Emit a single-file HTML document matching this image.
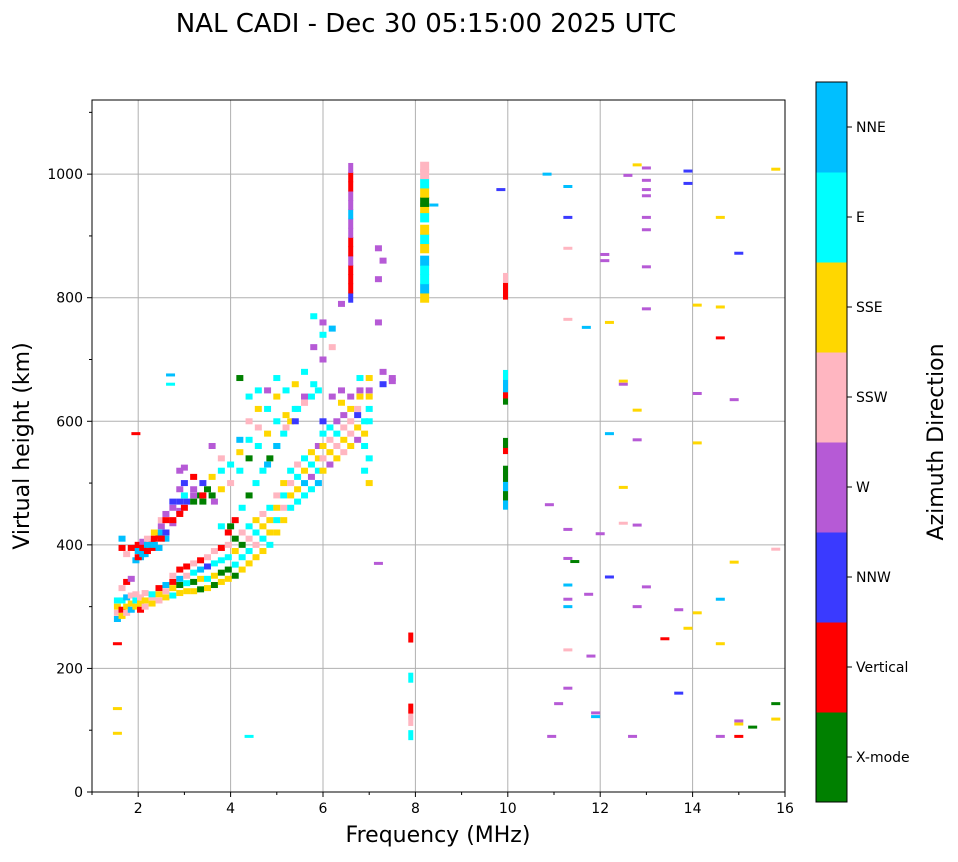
<!DOCTYPE html>
<html><head><meta charset="utf-8"><style>
body{margin:0;background:#fff;font-family:"Liberation Sans","DejaVu Sans",sans-serif}
svg text{font-family:"DejaVu Sans","Liberation Sans",sans-serif}
</style></head><body>
<svg id="chart" width="958" height="857" xmlns="http://www.w3.org/2000/svg">
<text x="426" y="32" font-size="26" text-anchor="middle">NAL CADI - Dec 30 05:15:00 2025 UTC</text>
<g id="grid"></g>
<g id="marks"></g>
<rect x="92" y="100" width="693" height="692" fill="none" stroke="#000" stroke-width="1"/>
<g id="axes"></g>
<text x="438" y="842" font-size="22" text-anchor="middle">Frequency (MHz)</text>
<text x="0" y="0" font-size="22" text-anchor="middle" transform="translate(29,446) rotate(-90)">Virtual height (km)</text>
<g id="cbar"></g>
<text x="0" y="0" font-size="22" text-anchor="middle" transform="translate(943,442) rotate(-90)">Azimuth Direction</text>
</svg>
<script>
const colors=["#008000","#ff0000","#3a3aff","#b65ad6","#ffb6c1","#ffd700","#00ffff","#00bfff"];
const directions=["X-mode","Vertical","NNW","W","SSW","SSE","E","NNE"];
const xTicks=[2,4,6,8,10,12,14,16];
const yTicks=[0,200,400,600,800,1000];
const lowerTrace=[
[1.55,[280,290,300,310],[7,4,5,6]],[1.65,[285,295,310,330,395,410],[5,1,6,4,1,7]],[1.75,[290,300,315,340,385],[4,5,7,1,4]],
[1.85,[295,305,318,345,395],[7,5,4,3,1]],[1.95,[300,310,320,375,395],[5,6,4,7,1]],[2.05,[295,305,315,390,380],[1,5,4,1,7]],
[2.15,[300,310,322,385,400],[4,5,4,7,1]],[2.3,[305,315,320,395,405],[5,4,6,1,1]],[2.45,[310,320,330,395,415],[4,5,1,7,1]],
[2.6,[315,325,335,410,420],[5,4,7,7,1]],[2.75,[318,330,340,350,435],[6,5,1,4,3]],[2.9,[322,335,345,360,455],[5,0,7,1,3]],
[3.05,[325,338,350,365,470],[5,6,4,1,2]],[3.2,[325,340,355,370,480],[5,0,6,4,3]],[3.35,[328,345,360,375,480],[0,5,7,1,0]],
[3.5,[330,345,365,380,490],[5,6,2,4,0]],[3.65,[335,350,370,390,470],[0,5,6,4,3]],[3.8,[340,355,375,395,430],[5,0,6,1,6]],
[3.95,[345,360,380,400,420],[5,0,6,4,1]],[4.1,[350,368,390,410,440],[0,6,5,0,1]],[4.25,[360,380,400,420,460],[5,6,0,4,6]],
[4.4,[370,390,410,430,480],[5,6,4,6,0]],[4.55,[380,400,420,440,500],[5,4,6,5,6]],[4.7,[390,410,430,450,520],[5,6,5,4,6]],
[4.85,[400,420,440,460,540],[6,5,5,6,0]],[5.0,[420,440,460,480,560],[5,6,5,4,6]],[5.15,[440,460,480,500,580],[5,4,6,5,6]],
[5.3,[460,480,500,520,600],[6,5,4,6,5]],[5.45,[470,490,510,530,620],[6,5,6,4,6]],[5.6,[480,500,520,540,630],[6,7,5,6,4]],
[5.75,[490,510,530,550,640],[6,3,6,5,6]],[5.9,[500,520,540,560,650],[7,6,5,3,6]],[6.0,[520,540,560,580,600],[5,4,5,6,2]],
[6.15,[530,550,570,590],[3,5,4,6]],[6.3,[540,560,580,600],[5,4,6,3]],[6.45,[550,570,590,610],[4,5,4,3]],
[6.6,[560,580,600,620,640],[5,4,4,5,3]],[6.75,[570,590,610,620],[3,5,2,4]],[6.9,[580,600,560,520],[5,6,6,6]],[7.0,[500,540,620,640],[5,6,6,5]]
];
const upperTrace=[
[2.0,[380,390,400],[1,7,1]],[2.1,[385,395,405],[7,1,3]],[2.2,[390,400,410],[1,7,4]],[2.35,[400,410,420],[7,1,5]],
[2.5,[410,420,430,440],[1,7,3,4]],[2.6,[420,440,450],[2,1,3]],[2.75,[440,460,470],[1,3,2]],[2.9,[450,470,490,520],[1,2,3,3]],
[3.0,[460,480,500,525],[1,6,2,3]],[3.2,[470,490,510],[0,3,1]],[3.4,[470,480,500],[0,1,2]],[3.6,[480,510,560],[0,5,3]],
[3.8,[490,520,540],[5,6,4]],[4.0,[500,530,430],[4,6,0]],[4.2,[520,550,570,670],[6,5,7,0]],[4.4,[540,570,600,640],[0,6,4,6]],
[4.6,[560,590,620,650],[6,4,5,6]],[4.8,[580,620,650,530],[5,6,3,7]],[5.0,[600,640,670,560],[6,5,6,7]],[5.2,[610,650,590],[5,6,4]],
[5.4,[620,660,600],[6,5,2]],[5.6,[640,680,630],[3,6,4]],[5.8,[660,720,770],[6,3,6]],[6.0,[700,740,760],[3,6,3]],
[6.2,[720,750,640],[4,7,3]],[6.4,[630,650,790],[5,3,3]],[6.8,[650,670,640],[3,6,5]],[7.0,[650,670,600],[3,5,6]],
[7.3,[660,680,860],[2,3,3]],[7.5,[665,670],[3,3]],[7.2,[880,830,760],[3,3,3]]
];
const columns=[
[6.6,[800,815,830,845,860,875,890,905,920,935,950,965,980,995,1010],[2,1,1,1,3,1,1,3,3,7,3,3,1,1,3]],
[8.2,[800,815,830,845,860,880,895,910,930,945,955,970,985,1000,1012],[5,7,6,6,7,5,6,5,6,5,0,5,6,4,4]],
[9.95,[465,480,495,510,520,555,565,635,645,655,665,675,805,820,832],[7,0,7,0,0,1,0,0,1,7,7,6,1,1,4]],
[7.9,[92,115,125,135,185,250],[6,4,4,1,6,1]]
];
const scattered=[
[10.85,1000,7],[11.3,980,7],[11.3,930,2],[11.3,880,4],[11.3,765,4],[11.7,752,7],[12.1,870,3],[12.1,860,3],[12.2,760,5],
[12.2,580,7],[12.5,665,5],[12.5,660,3],[12.8,618,5],[12.8,570,3],[12.5,435,4],[12.8,432,3],[13.0,1010,3],[12.8,1015,5],
[12.6,998,3],[13.0,990,3],[13.0,975,3],[13.0,965,3],[13.0,930,3],[13.0,910,3],[13.0,850,3],[13.0,782,3],[13.9,1005,2],
[13.9,985,2],[14.6,930,5],[15.0,872,2],[14.1,788,5],[14.6,785,5],[14.6,735,1],[14.1,645,3],[14.9,635,3],[14.1,565,5],
[12.5,493,5],[10.9,465,3],[11.3,425,3],[12.0,418,3],[11.3,378,3],[11.45,373,0],[11.3,335,7],[11.3,312,3],[11.3,300,7],
[11.75,320,3],[12.2,348,2],[12.8,300,3],[13.0,332,3],[13.4,248,1],[13.7,295,3],[14.1,290,5],[13.9,265,5],[14.6,312,7],
[14.9,372,5],[15.8,393,4],[14.6,240,5],[11.3,230,4],[11.3,168,3],[11.8,220,3],[11.1,143,3],[11.9,128,3],[11.9,122,7],
[10.95,90,3],[12.7,90,3],[13.7,160,2],[14.6,90,3],[15.0,90,1],[15.0,115,3],[15.0,110,5],[15.3,105,0],[15.8,118,5],
[15.8,143,0],[15.8,1008,5],[9.85,975,2],[8.4,950,7],[7.2,370,3],[4.4,90,6],[1.55,240,1],[1.55,95,5],[1.55,135,5],[1.95,580,1],[2.7,660,6],[2.7,675,7]
];

const NS="http://www.w3.org/2000/svg";
const X0=92,X1=785,Y0=792,Y1=100,FMIN=1,FMAX=16,HMIN=0,HMAX=1120;
function xs(f){return X0+(f-FMIN)/(FMAX-FMIN)*(X1-X0);}
function ys(h){return Y0-(h-HMIN)/(HMAX-HMIN)*(Y0-Y1);}
function el(tag,a,p){const e=document.createElementNS(NS,tag);for(const k in a)e.setAttribute(k,a[k]);p.appendChild(e);return e;}
const grid=document.getElementById('grid'),axes=document.getElementById('axes'),marks=document.getElementById('marks'),cbar=document.getElementById('cbar');
xTicks.forEach(function(v){
  const l=el('line',{x1:xs(v),x2:xs(v),y1:Y1,y2:Y0,stroke:'#b0b0b0','stroke-width':1},grid);
  
  el('line',{x1:xs(v),x2:xs(v),y1:Y0,y2:Y0+5,stroke:'#000'},axes);
  const t=el('text',{x:xs(v),y:Y0+21,'font-size':14,'text-anchor':'middle'},axes);t.textContent=v;
  
});
for(let v=1;v<16;v+=2){el('line',{x1:xs(v),x2:xs(v),y1:Y0,y2:Y0+3,stroke:'#000'},axes);}
yTicks.forEach(function(v){
  const l=el('line',{x1:X0,x2:X1,y1:ys(v),y2:ys(v),stroke:'#b0b0b0','stroke-width':1},grid);
  
  el('line',{x1:X0-5,x2:X0,y1:ys(v),y2:ys(v),stroke:'#000'},axes);
  const t=el('text',{x:X0-9,y:ys(v)+5,'font-size':14,'text-anchor':'end'},axes);t.textContent=v;
  
});
for(let v=100;v<1120;v+=100){if(v%200)el('line',{x1:X0-3,x2:X0,y1:ys(v),y2:ys(v),stroke:'#000'},axes);}
function drawMark(f,h,d,w,ht,name){
  const r=el('rect',{x:xs(f)-w/2,y:ys(h)-ht/2,width:w,height:ht,fill:colors[d]},marks);
  
  
}
lowerTrace.concat(upperTrace).forEach(function(t){t[1].forEach(function(h,i){drawMark(t[0],h,t[2][i],7,6,'trace-echo');});});
columns.forEach(function(t){const w=t[0]>8?(t[0]>9?5:9):5;t[1].forEach(function(h,i){drawMark(t[0],h,t[2][i],w,10,'column-echo');});});
scattered.forEach(function(s){drawMark(s[0],s[1],s[2],9,3,'scattered-echo');});
const CX=816,CW=31,CT=82,CB=802,seg=(CB-CT)/colors.length;
colors.forEach(function(c,i){
  const y=CB-(i+1)*seg;
  const r=el('rect',{x:CX,y:y,width:CW,height:seg+0.5,fill:c},cbar);
  
  el('line',{x1:CX+CW,x2:CX+CW+5,y1:y+seg/2,y2:y+seg/2,stroke:'#000'},cbar);
  const t=el('text',{x:CX+CW+9,y:y+seg/2+5,'font-size':14},cbar);t.textContent=directions[i];
  
});
el('rect',{x:CX,y:CT,width:CW,height:CB-CT,fill:'none',stroke:'#000'},cbar);
</script>
</body></html>
